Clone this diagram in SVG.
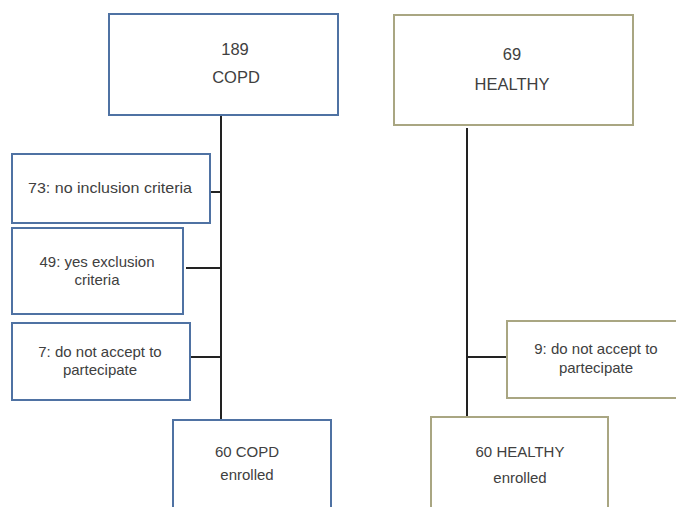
<svg xmlns="http://www.w3.org/2000/svg" width="676" height="507" viewBox="0 0 676 507">
<style>
.b{fill:#fff;stroke:#4f72a3;stroke-width:2}
.h{fill:#fff;stroke:#a9a682;stroke-width:2}
.t{font-family:"Liberation Sans",Arial,sans-serif;fill:#404040;text-anchor:middle}
.big{font-size:16.5px}
.sm{font-size:15px}
.c{stroke:#222;stroke-width:2;fill:none}
</style>
<rect width="676" height="507" fill="#fff"/>
<g id="connectors">
<line class="c" x1="221" y1="115" x2="221" y2="420"/>
<line class="c" x1="209" y1="192" x2="221" y2="192"/>
<line class="c" x1="186" y1="268" x2="221" y2="268"/>
<line class="c" x1="190" y1="357" x2="221" y2="357"/>
<line class="c" x1="467" y1="128" x2="467" y2="418"/>
<line class="c" x1="467" y1="357" x2="507" y2="357"/>
</g>
<g id="copd">
<rect class="b" x="109" y="14" width="229" height="101"/>
<text class="t big" x="235" y="55">189</text>
<text class="t big" x="236" y="83">COPD</text>
</g>
<g id="healthy">
<rect class="h" x="394" y="15" width="239" height="110"/>
<text class="t big" x="512" y="60">69</text>
<text class="t big" x="512" y="90">HEALTHY</text>
</g>
<g id="noinclusion">
<rect class="b" x="12" y="154" width="198" height="69"/>
<text class="t sm" x="110" y="193" textLength="164" lengthAdjust="spacingAndGlyphs">73: no inclusion criteria</text>
</g>
<g id="exclusion">
<rect class="b" x="12" y="228" width="171" height="86"/>
<text class="t sm" x="97" y="267">49: yes exclusion</text>
<text class="t sm" x="97" y="285">criteria</text>
</g>
<g id="copdrefuse">
<rect class="b" x="12" y="323" width="178" height="77"/>
<text class="t sm" x="100" y="357">7: do not accept to</text>
<text class="t sm" x="100" y="375">partecipate</text>
</g>
<g id="healthyrefuse">
<rect class="h" x="507" y="321" width="172" height="77"/>
<text class="t sm" x="596" y="354">9: do not accept to</text>
<text class="t sm" x="596" y="373">partecipate</text>
</g>
<g id="copdenrolled">
<rect class="b" x="173" y="420" width="158" height="100"/>
<text class="t sm" x="247" y="457">60 COPD</text>
<text class="t sm" x="247" y="480">enrolled</text>
</g>
<g id="healthyenrolled">
<rect class="h" x="431" y="417" width="177" height="100"/>
<text class="t sm" x="520" y="457">60 HEALTHY</text>
<text class="t sm" x="520" y="483">enrolled</text>
</g>
</svg>
